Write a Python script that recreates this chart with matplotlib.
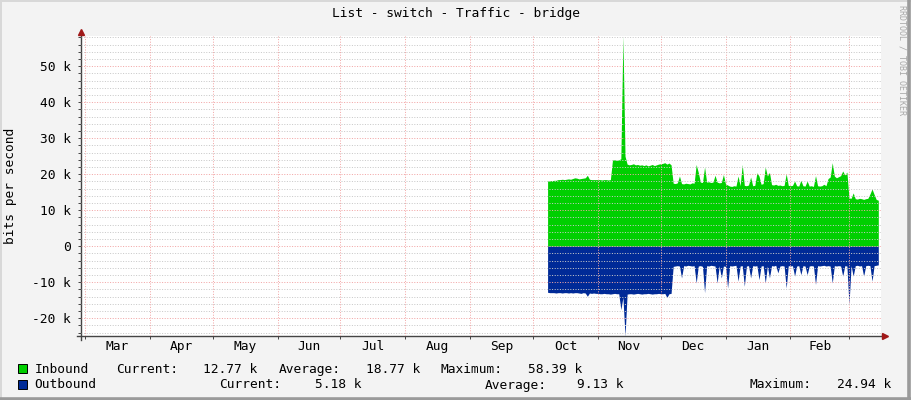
import numpy as np
import matplotlib
matplotlib.use("Agg")
import matplotlib.pyplot as plt
import matplotlib.dates as mdates
from matplotlib.patches import Rectangle
from matplotlib.lines import Line2D
from matplotlib.ticker import FixedLocator, MultipleLocator, FuncFormatter, NullFormatter

FONT = "DejaVu Sans Mono"
plt.rcParams["font.family"] = FONT
FS = 9.3

# daily traffic in kbit/s, first sample 2010-10-08
first_day = np.datetime64("2010-10-08")

inbound_oct = [18.1, 18.2, 18.2, 18.3, 18.3, 18.5, 18.5, 18.6, 18.5, 18.6, 18.7, 18.6,
               18.8, 19.0, 18.9, 18.7, 18.8, 18.9, 19.0, 19.7, 18.6, 18.5, 18.5, 18.5]
inbound_nov = [18.5, 18.5, 18.4, 18.5, 18.5, 18.4, 18.5, 23.9, 24.1, 23.8, 24.0, 24.3,
               58.39, 25.0, 22.8, 22.6, 22.7, 22.9, 22.6, 22.7, 22.5, 22.6,
               22.4, 22.6, 22.3, 22.5, 22.7, 22.4, 22.6, 22.8]
inbound_dec = [22.9, 23.0, 23.2, 22.8, 23.1, 22.6, 17.5, 17.4, 17.6, 19.5,
               17.4, 17.3, 17.5, 17.4, 17.3, 17.6, 17.5, 22.7, 20.5, 17.8, 17.7, 22.0,
               17.8, 17.9, 17.7, 17.8, 19.7, 17.8, 17.6, 17.7, 19.9]
inbound_jan = [17.3, 17.0, 16.7, 16.6, 16.8, 16.7, 19.5, 16.8, 22.7, 16.9, 16.8, 17.0,
               19.2, 16.8, 16.9, 20.4, 19.5, 17.2, 17.4, 22.0, 19.5, 20.5,
               17.1, 17.0, 17.2, 16.9, 17.0, 16.8, 16.9, 20.1, 16.9]
inbound_feb = [16.8, 16.9, 18.1, 16.8, 16.7, 18.3, 16.8, 16.7, 18.1, 16.7, 16.8, 16.6,
               19.6, 16.8, 16.7, 16.8, 17.2, 16.8, 18.8, 19.2, 23.2,
               19.5, 19.0, 19.3, 19.6, 20.9, 19.8, 20.6]
inbound_mar = [13.4, 13.3, 14.8, 13.2, 13.1, 13.3, 13.2, 13.0, 13.2, 13.3,
               14.5, 15.9, 14.4, 13.0, 12.77]

outbound_oct = [12.8, 12.9, 12.9, 12.9, 13.0, 12.9, 12.9, 13.0, 12.9, 12.9, 13.0, 12.9,
                13.0, 12.9, 12.9, 13.0, 13.1, 12.9, 13.0, 13.9, 13.0, 13.1, 13.0, 13.1]
outbound_nov = [13.1, 13.2, 13.2, 13.1, 13.2, 13.2, 13.3, 13.2, 13.1, 13.2, 13.2,
                17.6, 14.2, 24.94, 13.3, 13.2, 13.2, 13.3, 13.2, 13.1, 13.2, 13.3,
                13.2, 13.2, 13.1, 13.2, 13.3, 13.2, 13.2, 13.1]
outbound_dec = [13.2, 13.2, 13.1, 14.2, 13.2, 13.1, 5.6, 5.5, 5.4, 5.5, 8.8,
                5.4, 5.5, 5.3, 5.4, 5.5, 5.4, 10.2, 5.5, 5.4, 5.6, 12.9,
                5.4, 5.5, 5.3, 5.4, 5.5, 10.2, 5.4, 8.8, 5.5]
outbound_jan = [5.6, 11.6, 5.4, 5.5, 5.4, 5.3, 9.7, 5.5, 5.4, 11.1, 5.5, 5.4, 8.8,
                5.4, 5.5, 5.4, 9.3, 5.5, 5.4, 10.2, 5.5, 8.8, 5.4, 5.5, 5.3,
                7.4, 5.5, 5.4, 5.5, 11.6, 5.4]
outbound_feb = [5.5, 5.4, 8.3, 5.5, 5.4, 7.9, 5.4, 5.5, 7.9, 5.5, 5.4, 5.5, 10.6,
                5.4, 5.5, 5.4, 5.3, 5.5, 5.4, 5.5, 10.2, 5.4, 5.5, 5.4, 5.5,
                8.3, 5.4, 5.5]
outbound_mar = [16.2, 5.4, 8.3, 5.4, 5.3, 5.5, 5.4, 8.3, 5.4, 5.3, 5.4, 9.7,
                5.4, 5.3, 5.18]

inbound = np.array(inbound_oct + inbound_nov + inbound_dec + inbound_jan + inbound_feb + inbound_mar)
outbound = np.array(outbound_oct + outbound_nov + outbound_dec + outbound_jan + outbound_feb + outbound_mar)
days = first_day + np.arange(len(inbound)).astype("timedelta64[D]")

month_labels = ["Mar", "Apr", "May", "Jun", "Jul", "Aug", "Sep",
                "Oct", "Nov", "Dec", "Jan", "Feb"]
legend_names = ["Inbound", "Outbound"]
legend_current = ["12.77 k", "5.18 k"]
legend_average = ["18.77 k", "9.13 k"]
legend_maximum = ["58.39 k", "24.94 k"]

GREEN = "#00CF00"
BLUE = "#002A97"
AXIS = "#444444"
ARROW = "#A01818"
W, H = 911, 400

fig = plt.figure(figsize=(W / 100, H / 100), dpi=100, facecolor="#F3F3F3")
ax = fig.add_axes([81 / W, 1 - 336 / H, 800 / W, 300 / H])
ax.set_facecolor("white")

x = mdates.date2num(days)
ax.fill_between(x, 0, inbound, color=GREEN, lw=0)
ax.fill_between(x, 0, -outbound, color=BLUE, lw=0)

# month grid
month_starts = np.arange(np.datetime64("2010-03"), np.datetime64("2011-04"),
                         dtype="datetime64[M]").astype("datetime64[D]")
ms = mdates.date2num(month_starts)
centers = (ms[:-1] + ms[1:]) / 2
ax.set_xlim(mdates.date2num(np.datetime64("2010-02-27T02:00")),
            mdates.date2num(np.datetime64("2011-03-16T07:00")))
ax.set_ylim(-24.94, 58.39)

ax.xaxis.set_major_locator(FixedLocator(ms))
ax.xaxis.set_major_formatter(NullFormatter())
ax.xaxis.set_minor_locator(FixedLocator(centers))
ax.xaxis.set_minor_formatter(FuncFormatter(lambda v, p: month_labels[p] if p < len(month_labels) else ""))
ax.yaxis.set_major_locator(MultipleLocator(10))
ax.yaxis.set_minor_locator(MultipleLocator(2))
ax.yaxis.set_major_formatter(FuncFormatter(lambda v, p: "0" if abs(v) < 1e-9 else f"{v:.0f} k"))

red_grid = dict(color="#F2A6A6", lw=0.72, ls=(0, (1, 1.6)))
gray_grid = dict(color="#C9C9C9", lw=0.72, ls=(0, (1, 1.6)))
ax.xaxis.grid(True, which="major", **red_grid)
ax.yaxis.grid(True, which="major", **red_grid)
ax.yaxis.grid(True, which="minor", **gray_grid)
ax.set_axisbelow(False)

ax.tick_params(axis="y", which="both", direction="out", length=2.2, width=0.7,
               color=AXIS, labelsize=FS, pad=5)
ax.tick_params(axis="x", which="major", direction="out", length=2.2, width=0.7, color=AXIS)
ax.tick_params(axis="x", which="minor", length=0, labelsize=FS, pad=3.2)
for s in ax.spines.values():
    s.set_visible(False)

# axis lines with arrows
ax.plot([0, 0], [-0.013, 1.01], transform=ax.transAxes, color=AXIS, lw=1, clip_on=False)
ax.plot([-0.005, 1.003], [0, 0], transform=ax.transAxes, color=AXIS, lw=1, clip_on=False)
ax.plot([0], [1.0143], transform=ax.transAxes, marker="^", ms=4.5, color=ARROW,
        mec=ARROW, clip_on=False)
ax.plot([1.0056], [0], transform=ax.transAxes, marker=">", ms=4.5, color=ARROW,
        mec=ARROW, clip_on=False)

def fx(px):
    return px / W

def fy(py):
    return 1 - py / H

fig.text(0.5, fy(14), "List - switch - Traffic - bridge", ha="center", va="center", fontsize=FS)
fig.text(fx(10.5), fy(186), "bits per second", rotation=90, ha="center", va="center", fontsize=FS)
fig.text(fx(902), fy(60), "RRDTOOL / TOBI OETIKER", rotation=270, ha="center", va="center",
         fontsize=6, color="#A8A8A8")

# legend
rows = [
    (373, GREEN, [35, 117, 204, 279, 367, 441, 529]),
    (388.5, BLUE, [35, 220, 316, 485, 578, 750, 838]),
]
for i, (base, col, xs) in enumerate(rows):
    fig.add_artist(Rectangle((fx(17.5), fy(base)), 9 / W, 9 / H, transform=fig.transFigure,
                             facecolor=col, edgecolor="black", lw=0.7))
    parts = [legend_names[i], "Current:", legend_current[i], "Average:",
             legend_average[i], "Maximum:", legend_maximum[i]]
    for xp, txt in zip(xs, parts):
        fig.text(fx(xp - 0.7), fy(base), txt, ha="left", va="baseline", fontsize=FS)

# 3d frame
fig.add_artist(Line2D([0, 1], [fy(0.5), fy(0.5)], color="#D8D8D8", lw=1.4, transform=fig.transFigure))
fig.add_artist(Line2D([fx(0.5), fx(0.5)], [0, 1], color="#D8D8D8", lw=1.4, transform=fig.transFigure))
fig.add_artist(Line2D([0, 1], [fy(398.5), fy(398.5)], color="#9A9A9A", lw=2.6, transform=fig.transFigure))
fig.add_artist(Line2D([fx(909), fx(909)], [0, 1], color="#9A9A9A", lw=2.6, transform=fig.transFigure))

fig.savefig("out.png", dpi=100, facecolor=fig.get_facecolor())
